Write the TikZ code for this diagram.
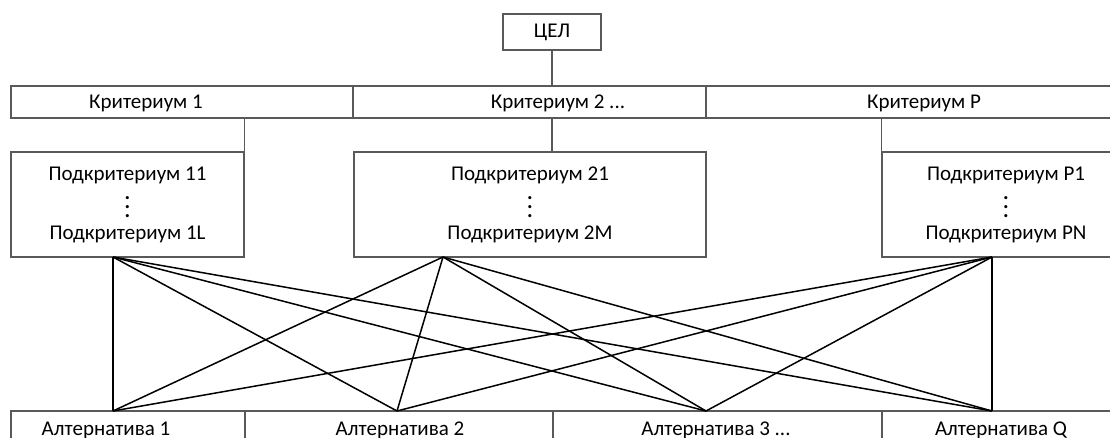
\documentclass[tikz,border=0pt]{standalone}
\usepackage{fontspec}
\setmainfont{Carlito}
\usetikzlibrary{positioning}

\newcommand{\vdts}{\vbox{\bfseries\baselineskip=9pt\hbox{.}\hbox{.}\hbox{.}}}

\tikzset{
  cell/.style={draw=black!65, line width=1.2pt, inner sep=0pt, minimum height=32pt},
  lbl/.style={anchor=base, font=\fontsize{21}{25}\selectfont},
  stem/.style={draw=black!65, line width=1.2pt},
  link/.style={black, line width=1.5pt},
}

\begin{document}
\begin{tikzpicture}[x=1pt, y=-1pt]
  \useasboundingbox (0,0) rectangle (1110,438);

  % Goal
  \node[cell, minimum width=98pt, minimum height=36pt, font=\fontsize{21}{25}\selectfont] (goal) at (552,32) {ЦЕЛ};

  % Criteria row
  \node[cell, minimum width=342pt] (k1) at (182,102) {};
  \node[cell, minimum width=353pt] (k2) at (529.5,102) {};
  \node[cell, minimum width=424pt] (k3) at (918,102) {};
  \node[lbl] (k1t) at (146,109) {Критериум 1};
  \node[lbl] (k2t) at (558,109) {Критериум 2 ...};
  \node[lbl] (k3t) at (924,109) {Критериум P};

  % Subcriteria
  \tikzset{sub/.style={cell, minimum height=105pt, align=center, font=\fontsize{21}{25}\selectfont}}
  \node[sub, minimum width=233pt] (s1) at (127.5,204.5) {Подкритериум 11\\[12pt]\vdts\\[-3pt]Подкритериум 1L};
  \node[sub, minimum width=352pt] (s2) at (530,204.5) {Подкритериум 21\\[12pt]\vdts\\[-3pt]Подкритериум 2M};
  \node[sub, minimum width=248pt] (s3) at (1006,204.5) {Подкритериум P1\\[12pt]\vdts\\[-3pt]Подкритериум PN};

  % Alternatives row
  \node[cell, minimum width=234pt] (a1) at (128,427) {};
  \node[cell, minimum width=308pt] (a2) at (399,427) {};
  \node[cell, minimum width=329pt] (a3) at (717.5,427) {};
  \node[cell, minimum width=248pt] (a4) at (1006,427) {};
  \node[lbl] (a1t) at (106,435) {Алтернатива 1};
  \node[lbl] (a2t) at (400,435) {Алтернатива 2};
  \node[lbl] (a3t) at (716,435) {Алтернатива 3 ...};
  \node[lbl] (a4t) at (1001,435) {Алтернатива Q};

  % Tree stems
  \draw[stem] (goal.south) -- (goal.south |- k2.north);
  \draw[stem] (s1.north east) -- (s1.north east |- k1.south);
  \draw[stem] (goal.south |- k2.south) -- (goal.south |- s2.north);
  \draw[stem] (s3.north west) -- (s3.north west |- k3.south);

  % Links subcriteria -- alternatives
  \coordinate (p1) at (113,257);
  \coordinate (p2) at (443,257);
  \coordinate (p3) at (992,257);
  \coordinate (q1) at (113,411);
  \coordinate (q2) at (397,411);
  \coordinate (q3) at (706,411);
  \coordinate (q4) at (992,411);
  \foreach \p in {p1,p2,p3}
    \foreach \q in {q1,q2,q3,q4}
      \draw[link] (\p) -- (\q);
\end{tikzpicture}
\end{document}
